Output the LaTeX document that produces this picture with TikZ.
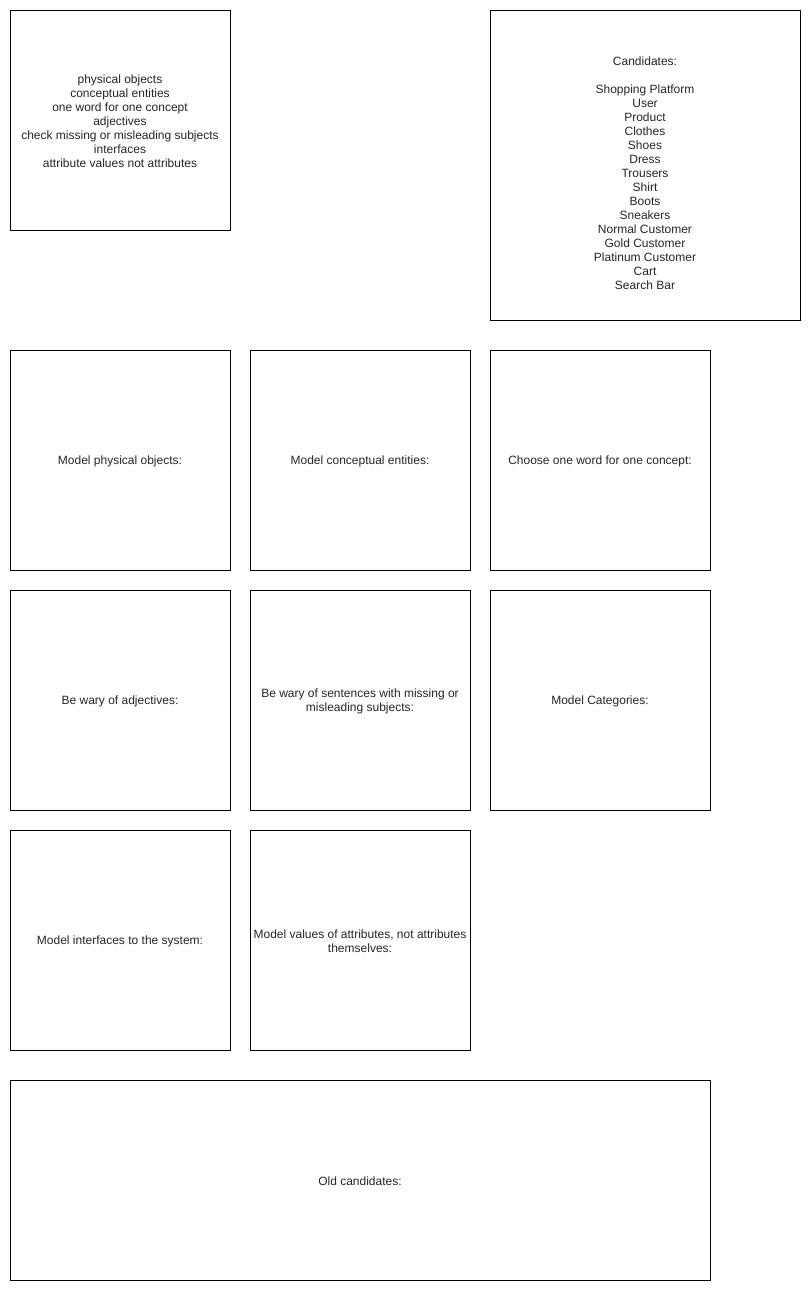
\documentclass[tikz,border=0pt]{standalone}
\usepackage{fontspec}
\setmainfont{Liberation Sans}
\begin{document}
\begin{tikzpicture}[x=1pt,y=-1pt,
  card/.style={draw=black,line width=0.8pt,fill=white},
  lbl/.style={align=center,font=\fontsize{12}{14}\selectfont,text=black!85,inner sep=0pt}]
\useasboundingbox (0,0) rectangle (811,1291);
\fill[white] (0,0) rectangle (811,1291);
% boxes
\draw[card] (10,10) rectangle (230,230);
\node[lbl] (notes) at (120,121) {physical objects\\conceptual entities\\one word for one concept\\adjectives\\check missing or misleading subjects\\interfaces\\attribute values not attributes};
\draw[card] (490,10) rectangle (800,320);
\node[lbl] (cand) at (645,173) {Candidates:\\[14pt]Shopping Platform\\User\\Product\\Clothes\\Shoes\\Dress\\Trousers\\Shirt\\Boots\\Sneakers\\Normal Customer\\Gold Customer\\Platinum Customer\\Cart\\Search Bar};
\draw[card] (10,350) rectangle (230,570);
\node[lbl] (phys) at (120,461) {Model physical objects:};
\draw[card] (250,350) rectangle (470,570);
\node[lbl] (conc) at (360,461) {Model conceptual entities:};
\draw[card] (490,350) rectangle (710,570);
\node[lbl] (word) at (600,461) {Choose one word for one concept:};
\draw[card] (10,590) rectangle (230,810);
\node[lbl] (adj) at (120,701) {Be wary of adjectives:};
\draw[card] (250,590) rectangle (470,810);
\node[lbl] (subj) at (360,701) {Be wary of sentences with missing or\\misleading subjects:};
\draw[card] (490,590) rectangle (710,810);
\node[lbl] (cat) at (600,701) {Model Categories:};
\draw[card] (10,830) rectangle (230,1050);
\node[lbl] (intf) at (120,941) {Model interfaces to the system:};
\draw[card] (250,830) rectangle (470,1050);
\node[lbl] (vals) at (360,941) {Model values of attributes, not attributes\\themselves:};
\draw[card] (10,1080) rectangle (710,1280);
\node[lbl] (old) at (360,1181) {Old candidates:};
\end{tikzpicture}
\end{document}
